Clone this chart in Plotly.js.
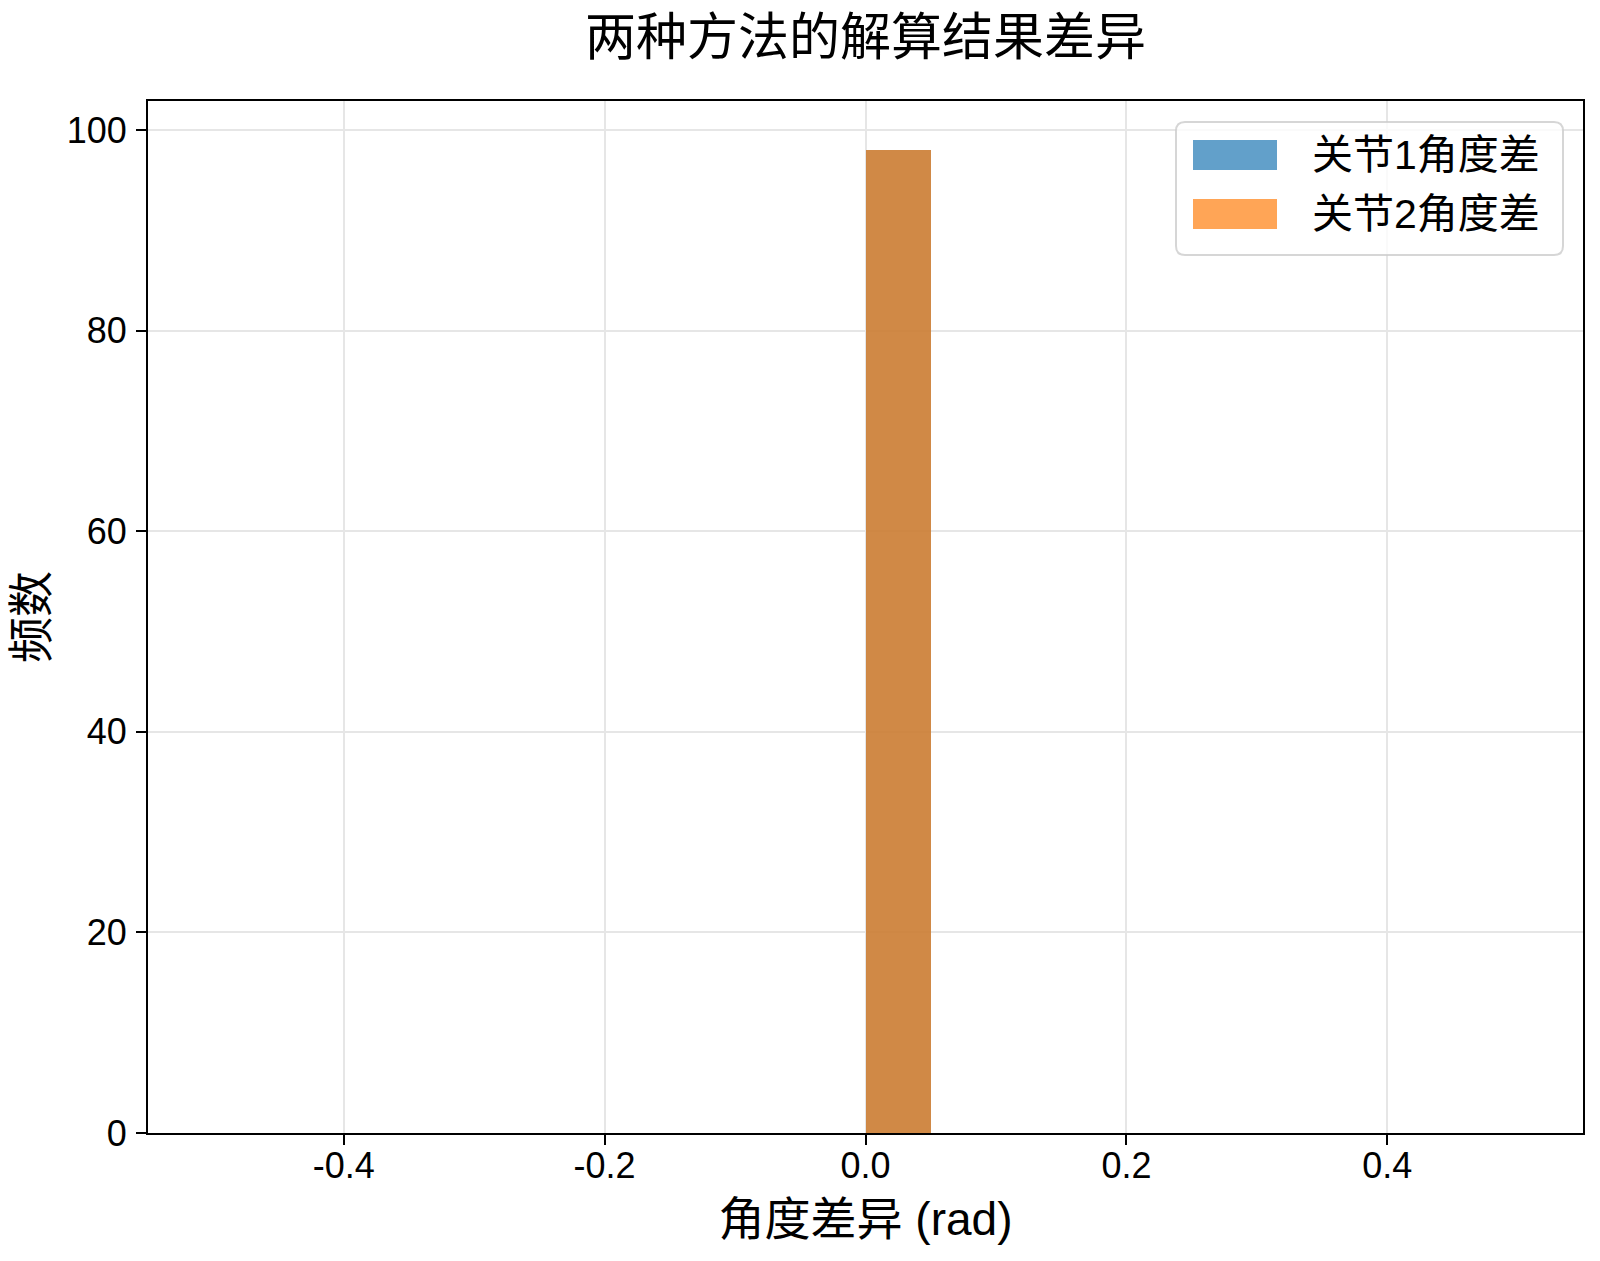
<!DOCTYPE html>
<html>
<head>
<meta charset="utf-8">
<script src="https://cdn.plot.ly/plotly-3.0.1.min.js"></script>
<style>
html,body{margin:0;padding:0;background:#ffffff;}
#chart{width:1600px;height:1261px;}
</style>
</head>
<body>
<div id="chart"></div>
<script>
// ---- data ----
const binCenters = [-0.475,-0.425,-0.375,-0.325,-0.275,-0.225,-0.175,-0.125,-0.075,-0.025,0.025,0.075,0.125,0.175,0.225,0.275,0.325,0.375,0.425,0.475];
const joint1Counts = [0,0,0,0,0,0,0,0,0,0,98,0,0,0,0,0,0,0,0,0];
const joint2Counts = [0,0,0,0,0,0,0,0,0,0,98,0,0,0,0,0,0,0,0,0];
const seriesNames = ['关节1角度差','关节2角度差'];
const xTickVals = [-0.4,-0.2,0.0,0.2,0.4];
const xTickText = ['-0.4','-0.2','0.0','0.2','0.4'];
const yTickVals = [0,20,40,60,80,100];
const yTickText = ['0','20','40','60','80','100'];
const titleText = '两种方法的解算结果差异';
const xLabel = '角度差异 (rad)';
const yLabel = '频数';

// ---- styling ----
const FONT = '"Liberation Sans", Arial, "Noto Sans CJK SC", sans-serif';
const blue = '#1f77b4', orange = '#ff7f0e';
const W = 1600, H = 1261, L = 148, R = 1583, T = 101, B = 1133;
const fx = p => (p - L) / (R - L);
const fy = p => (B - p) / (B - T);

function roundRectPath(x0, y0, x1, y1, r) {
  const P = (x, y) => fx(x).toFixed(5) + ',' + fy(y).toFixed(5);
  return 'M' + P(x0 + r, y0) + ' L' + P(x1 - r, y0) + ' Q' + P(x1, y0) + ' ' + P(x1, y0 + r) +
    ' L' + P(x1, y1 - r) + ' Q' + P(x1, y1) + ' ' + P(x1 - r, y1) +
    ' L' + P(x0 + r, y1) + ' Q' + P(x0, y1) + ' ' + P(x0, y1 - r) +
    ' L' + P(x0, y0 + r) + ' Q' + P(x0, y0) + ' ' + P(x0 + r, y0) + ' Z';
}

const traces = [
  {type: 'bar', name: seriesNames[0], x: binCenters, y: joint1Counts, width: 0.05,
   marker: {color: blue, line: {width: 0}}, opacity: 0.7, showlegend: false},
  {type: 'bar', name: seriesNames[1], x: binCenters, y: joint2Counts, width: 0.05,
   marker: {color: orange, line: {width: 0}}, opacity: 0.7, showlegend: false}
];

const legendColors = ['rgba(31,119,180,0.7)', 'rgba(255,127,14,0.7)'];
const legendRowsY = [155, 214];

const shapes = [
  {type: 'path', xref: 'paper', yref: 'paper', layer: 'above',
   path: roundRectPath(1176, 122, 1563, 255, 9),
   fillcolor: 'rgba(255,255,255,0.8)', line: {color: 'rgba(204,204,204,0.8)', width: 2}}
];
const annotations = [];
seriesNames.forEach((nm, i) => {
  const cy = legendRowsY[i];
  shapes.push({type: 'rect', xref: 'paper', yref: 'paper', layer: 'above',
    x0: fx(1193), x1: fx(1277), y0: fy(cy - 15), y1: fy(cy + 15),
    fillcolor: legendColors[i], line: {width: 0}});
  annotations.push({xref: 'paper', yref: 'paper', x: fx(1310), y: fy(cy),
    xanchor: 'left', yanchor: 'middle', showarrow: false, text: nm,
    font: {family: FONT, size: 41, color: '#000000'}});
});

const axisCommon = {
  showline: true, linecolor: '#000000', linewidth: 2, mirror: true,
  ticks: 'outside', ticklen: 10, tickwidth: 2, tickcolor: '#000000',
  showgrid: true, gridcolor: '#e6e6e6', gridwidth: 2,
  zeroline: false, automargin: false,
  tickfont: {family: FONT, size: 36, color: '#000000'}
};

const layout = {
  width: W, height: H,
  paper_bgcolor: '#ffffff', plot_bgcolor: '#ffffff',
  margin: {l: L, r: W - R, t: T, b: H - B, pad: 0},
  barmode: 'overlay', bargap: 0,
  showlegend: false,
  font: {family: FONT, color: '#000000'},
  title: {text: titleText, x: 0.5, xref: 'paper', xanchor: 'center',
          y: 1 - 37 / H, yref: 'container', yanchor: 'middle',
          font: {family: FONT, size: 51, color: '#000000'}},
  xaxis: Object.assign({}, axisCommon, {
    range: [-0.55, 0.55], tickmode: 'array', tickvals: xTickVals, ticktext: xTickText,
    ticklabelstandoff: -10,
    title: {text: xLabel, standoff: 18, font: {family: FONT, size: 46, color: '#000000'}}
  }),
  yaxis: Object.assign({}, axisCommon, {
    range: [0, 102.9], tickmode: 'array', tickvals: yTickVals, ticktext: yTickText,
    ticklabelstandoff: 2,
    title: {text: yLabel, standoff: 5, font: {family: FONT, size: 46, color: '#000000'}}
  }),
  shapes: shapes,
  annotations: annotations
};

Plotly.newPlot('chart', traces, layout, {displayModeBar: false, staticPlot: true});
</script>
</body>
</html>
